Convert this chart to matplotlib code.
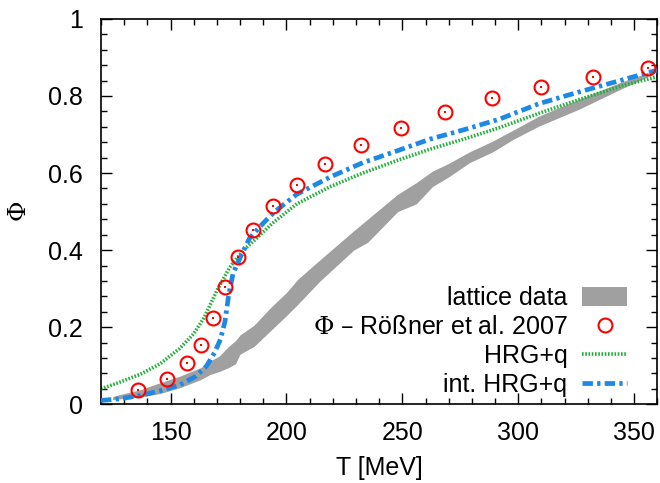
import matplotlib
matplotlib.use("Agg")
import matplotlib.pyplot as plt
from matplotlib.ticker import MultipleLocator, FuncFormatter
from matplotlib.patches import Patch
from matplotlib.lines import Line2D

plt.rcParams['font.family'] = ['Liberation Sans', 'DejaVu Sans']
plt.rcParams['mathtext.fontset'] = 'dejavuserif'

# lattice data band
lat_T = [125, 128, 137, 145.5, 154, 163, 167, 171, 175, 178, 180, 186, 193, 200, 205,
         214.5, 229, 235, 248, 256, 263, 270, 279, 289, 298, 309, 326, 344, 352, 356]
lat_lo = [0.012, 0.014, 0.019, 0.028, 0.043, 0.064, 0.077, 0.085, 0.095, 0.105, 0.13, 0.15, 0.19, 0.23, 0.26,
          0.32, 0.40, 0.42, 0.50, 0.52, 0.565, 0.59, 0.627, 0.655, 0.688, 0.722, 0.765, 0.817, 0.839, 0.85]
lat_hi = [0.02, 0.025, 0.038, 0.056, 0.073, 0.095, 0.112, 0.125, 0.15, 0.165, 0.18, 0.205, 0.25, 0.29, 0.325,
          0.375, 0.45, 0.48, 0.545, 0.575, 0.605, 0.625, 0.655, 0.683, 0.712, 0.748, 0.791, 0.835, 0.852, 0.862]

# Roessner et al. 2007
ros_T = [136, 148.5, 157.1, 163.2, 168.4, 173.5, 179.1, 185.6, 194.2, 204.6, 216.7,
         232.2, 249.5, 268.5, 288.7, 309.9, 332.3, 356.1]
ros_phi = [0.037, 0.065, 0.106, 0.153, 0.223, 0.304, 0.382, 0.452, 0.514, 0.569, 0.623,
           0.673, 0.717, 0.758, 0.795, 0.823, 0.849, 0.873]

# HRG+q
hrg_T = [120, 128, 137, 145.5, 154, 160, 164.5, 170, 175.5, 181.5, 187, 194, 204.5, 219,
         233, 247.5, 262, 277.6, 292, 309, 326, 344, 360]
hrg_phi = [0.04, 0.057, 0.078, 0.105, 0.145, 0.183, 0.225, 0.295, 0.355, 0.40, 0.43, 0.47, 0.52, 0.565,
           0.60, 0.632, 0.662, 0.69, 0.718, 0.755, 0.79, 0.825, 0.85]

# int. HRG+q
int_T = [120, 128, 137, 145, 154, 161, 165.5, 169, 171.5, 173.5, 175, 177, 180, 184, 190, 195,
         204.5, 219, 233, 247.5, 262, 277.6, 292, 309, 326, 344, 360]
int_phi = [0.010, 0.014, 0.023, 0.034, 0.050, 0.073, 0.099, 0.134, 0.168, 0.215, 0.28, 0.34, 0.38, 0.43,
           0.47, 0.50, 0.545, 0.59, 0.627, 0.657, 0.688, 0.714, 0.74, 0.78, 0.81, 0.84, 0.867]

xticks = [150, 200, 250, 300, 350]
yticks = [0, 0.2, 0.4, 0.6, 0.8, 1.0]

fig = plt.figure(figsize=(6.6, 4.83), dpi=100)
ax = fig.add_axes([0.153, 0.163, 0.843, 0.798])

gray = '#a0a0a0'
green = '#22b03a'
blue = '#1e88e5'
red = '#ff0000'

ax.fill_between(lat_T, lat_lo, lat_hi, color=gray, linewidth=0, zorder=1)
ax.plot(hrg_T, hrg_phi, color=green, lw=2.6, linestyle=(0, (0.45, 0.45)), zorder=2)
ax.plot(int_T, int_phi, color=blue, lw=3.4, linestyle=(0, (2.2, 0.9, 0.7, 0.9)), zorder=3)
ax.plot(ros_T, ros_phi, linestyle='none', marker='o', markersize=10, markerfacecolor='none',
        markeredgecolor=red, markeredgewidth=1.5, zorder=4)
ax.plot(ros_T, ros_phi, linestyle='none', marker='s', markersize=1.6, color=red,
        markeredgewidth=0, zorder=4)

ax.set_xlim(120, 360)
ax.set_ylim(0, 1)
ax.set_xticks(xticks)
ax.set_yticks(yticks)
ax.yaxis.set_major_formatter(FuncFormatter(lambda v, p: '%g' % v))
ax.xaxis.set_minor_locator(MultipleLocator(10))
ax.yaxis.set_minor_locator(MultipleLocator(0.04))
ax.tick_params(which='both', direction='in', top=True, right=True, labelsize=18, width=1)
ax.tick_params(which='major', length=8)
ax.tick_params(axis='y', which='major', pad=13)
ax.tick_params(axis='x', which='major', pad=12)
ax.tick_params(which='minor', length=4)
for s in ax.spines.values():
    s.set_linewidth(1.2)

ax.set_xlabel('T [MeV]', fontsize=18, labelpad=8)
ax.set_ylabel(r'$\Phi$', fontsize=18, labelpad=12)

handles = [
    Patch(facecolor=gray, edgecolor='none'),
    Line2D([], [], linestyle='none', marker='o', markersize=10, markerfacecolor='none',
           markeredgecolor=red, markeredgewidth=1.5),
    Line2D([], [], color=green, lw=2.6, linestyle=(0, (0.45, 0.45))),
    Line2D([], [], color=blue, lw=3.4, linestyle=(0, (2.2, 0.9, 0.7, 0.9))),
]
labels = ['lattice data', r'$\Phi$ – Rößner et al. 2007', 'HRG+q', 'int. HRG+q']
leg = ax.legend(handles, labels, loc='lower right', markerfirst=False, frameon=False,
                fontsize=18, handlelength=1.8, handleheight=0.8, labelspacing=0.2,
                handletextpad=0.6, borderaxespad=0.2, bbox_to_anchor=(0.973, -0.02))

fig.savefig('out.png', dpi=100)
